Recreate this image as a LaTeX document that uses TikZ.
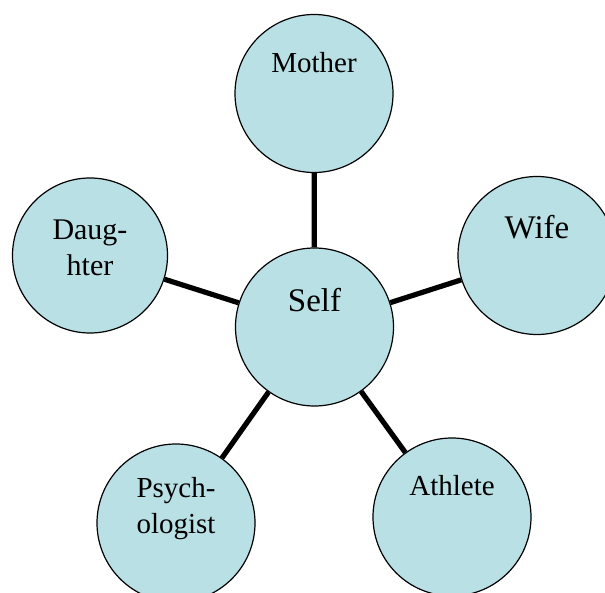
\documentclass[tikz,border=0pt]{standalone}
\usepackage{fontspec}
\setmainfont{Liberation Serif}
\usepackage{tikz}
\definecolor{roleblue}{HTML}{B9E0E4}

\begin{document}
\begin{tikzpicture}[x=1pt, y=-1pt,
    role/.style={circle, draw=black, line width=1.2pt, fill=roleblue, minimum size=158pt, inner sep=0pt},
    link/.style={line width=5.2pt},
    big/.style={font=\fontsize{33}{40}\selectfont},
    small/.style={font=\fontsize{29}{35.5}\selectfont, align=center}]
\useasboundingbox (0,0) rectangle (605,593);

% Rollen
\node[role] (self) at (314.5,327) {};
\node[role] (mother) at (314,93.5) {};
\node[role] (wife) at (537,255.5) {};
\node[role, minimum size=155pt] (daughter) at (90,255.5) {};
\node[role] (psych) at (176,523) {};
\node[role] (athlete) at (452,517) {};

% Verbindungen
\draw[link] (self) -- (mother);
\draw[link] (self) -- (wife);
\draw[link] (self) -- (daughter);
\draw[link] (self) -- (psych);
\draw[link] (self) -- (athlete);

% Texte
\node[big] (self-t) at ([yshift=27pt]self) {Self};
\node[big] (wife-t) at ([yshift=28.5pt]wife) {Wife};
\node[small] (mother-t) at ([yshift=31pt]mother) {Mother};
\node[small] (athlete-t) at ([yshift=31.5pt]athlete) {Athlete};
\node[small, font=\fontsize{30}{36}\selectfont] (daughter-t) at ([yshift=8pt]daughter) {Daug-\\hter};
\node[small] (psych-t) at ([yshift=14.5pt]psych) {Psych-\\ologist};
\end{tikzpicture}
\end{document}
